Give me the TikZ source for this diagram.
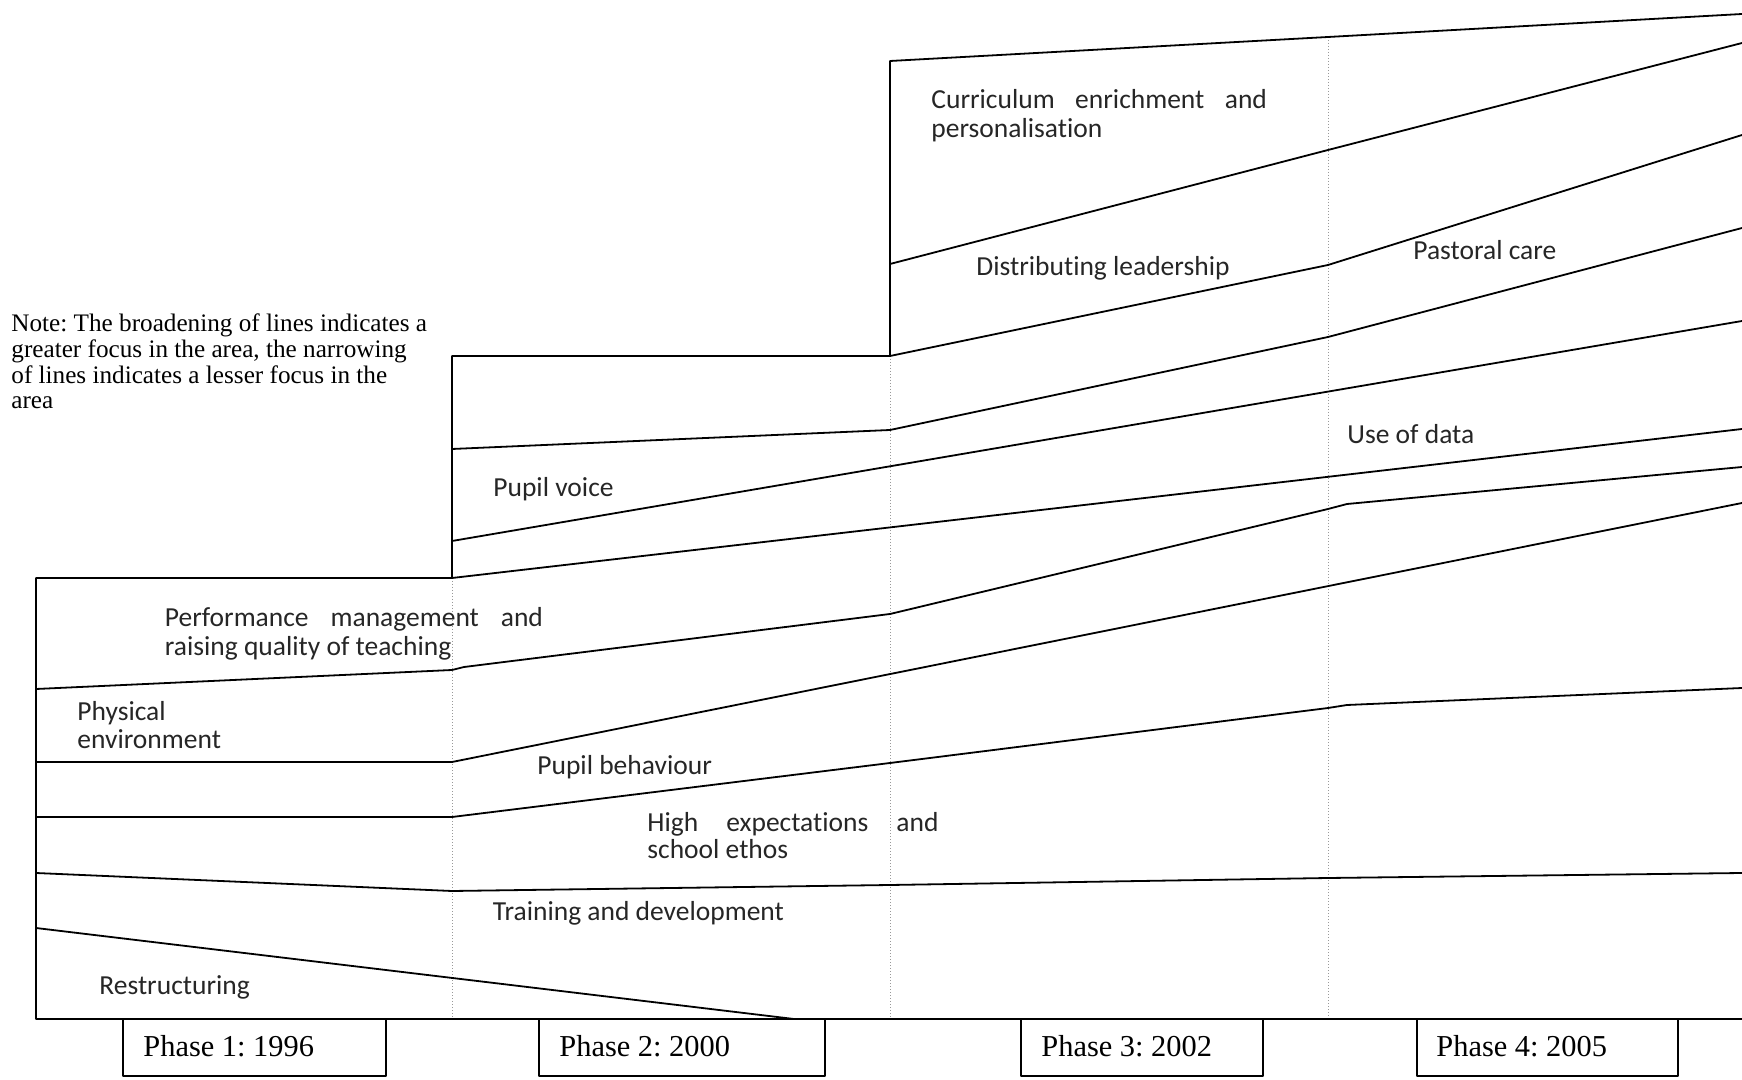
\documentclass[tikz,border=0pt]{standalone}
\usepackage{fontspec}
\setmainfont{Liberation Serif}
\newfontfamily\areafont[Ligatures=NoCommon]{Carlito}
\frenchspacing

\tikzset{
  band/.style={line width=0.9pt, line join=round},
  divider/.style={densely dotted, color=gray!80, line width=0.5pt},
  area/.style={anchor=west, inner sep=0pt, align=left, text=black!85, font=\areafont\fontsize{13.75}{14.4}\selectfont},
  phaselabel/.style={anchor=west, inner sep=0pt, font=\fontsize{15.2}{16}\selectfont},
  notetext/.style={anchor=west, inner sep=0pt, align=left, font=\fontsize{12.6}{12.8}\selectfont},
}

\begin{document}
\begin{tikzpicture}[x=0.5pt,y=0.5pt,yscale=-1,xscale=1]
\useasboundingbox (0,0) rectangle (1742,1080);

%Dotted dividers between phases
\draw [divider] (452,578) -- (452,1019) ;
\draw [divider] (890,356) -- (890,1019) ;
\draw [divider] (1328,37) -- (1328,1019) ;

%Outline (steps)
\draw [band] (1742,1019) -- (36,1019) -- (36,578) -- (452,578) -- (452,356) -- (890,356) -- (890,61) -- (1328,37) -- (1742,14) ;

%Straight Lines
\draw [band] (890,264) -- (1328,150) -- (1742,43) ;
%Straight Lines
\draw [band] (890,356) -- (1328,265) -- (1742,135) ;
%Straight Lines
\draw [band] (452,449) -- (890,430) -- (1328,337) -- (1742,228) ;
%Straight Lines
\draw [band] (452,541) -- (1742,321) ;
%Straight Lines
\draw [band] (452,578) -- (1742,429) ;
%Straight Lines
\draw [band] (36,689) -- (452,670) -- (464,667) -- (890,614) -- (1328,509) -- (1347,504) -- (1742,467) ;
%Straight Lines
\draw [band] (36,762) -- (452,762) -- (1742,503) ;
%Straight Lines
\draw [band] (36,817) -- (452,817) -- (890,763) -- (1328,708) -- (1347,705) -- (1742,688) ;
%Straight Lines
\draw [band] (36,873) -- (452,891) -- (890,885) -- (1328,878) -- (1742,873) ;
%Straight Lines
\draw [band] (36,928) -- (794,1019) ;

%Phase boxes
\draw [band] (123,1019) rectangle (386,1076) ;
\draw [band] (539,1019) rectangle (825,1076) ;
\draw [band] (1021,1019) rectangle (1263,1076) ;
\draw [band] (1417,1019) rectangle (1678,1076) ;

% Text Node
\draw (11,361.5) node (note) [notetext] {Note: The broadening of lines indicates a\\greater focus in the area, the narrowing\\of lines indicates a lesser focus in the\\area};
% Text Node
\draw (931,115.5) node (curric) [area] {\makebox[167.8pt][s]{Curriculum enrichment and}\\personalisation};
% Text Node
\draw (976,268) node (distrib) [area] {Distributing leadership};
% Text Node
\draw (1413,250) node (pastoral) [area] {Pastoral care};
% Text Node
\draw (493,489) node (voice) [area] {Pupil voice};
% Text Node
\draw (1347,434) node (data) [area] {Use of data};
% Text Node
\draw (164.5,633.5) node (perform) [area] {\makebox[189pt][s]{Performance management and}\\raising quality of teaching};
% Text Node
\draw (77,725) node (physical) [area] {Physical\\environment};
% Text Node
\draw (537,767) node (behaviour) [area] {Pupil behaviour};
% Text Node
\draw (647,835.5) node (expect) [area, font=\areafont\fontsize{13.75}{13.4}\selectfont] {\makebox[145.6pt][s]{High expectations and}\\school ethos};
% Text Node
\draw (492.5,913) node (training) [area] {Training and development};
% Text Node
\draw (99,987.5) node (restruct) [area] {Restructuring};
% Text Node
\draw (143,1046) node (phase1) [phaselabel] {Phase 1: 1996};
% Text Node
\draw (559,1046) node (phase2) [phaselabel] {Phase 2: 2000};
% Text Node
\draw (1041,1046) node (phase3) [phaselabel] {Phase 3: 2002};
% Text Node
\draw (1436,1046) node (phase4) [phaselabel] {Phase 4: 2005};

\end{tikzpicture}
\end{document}
